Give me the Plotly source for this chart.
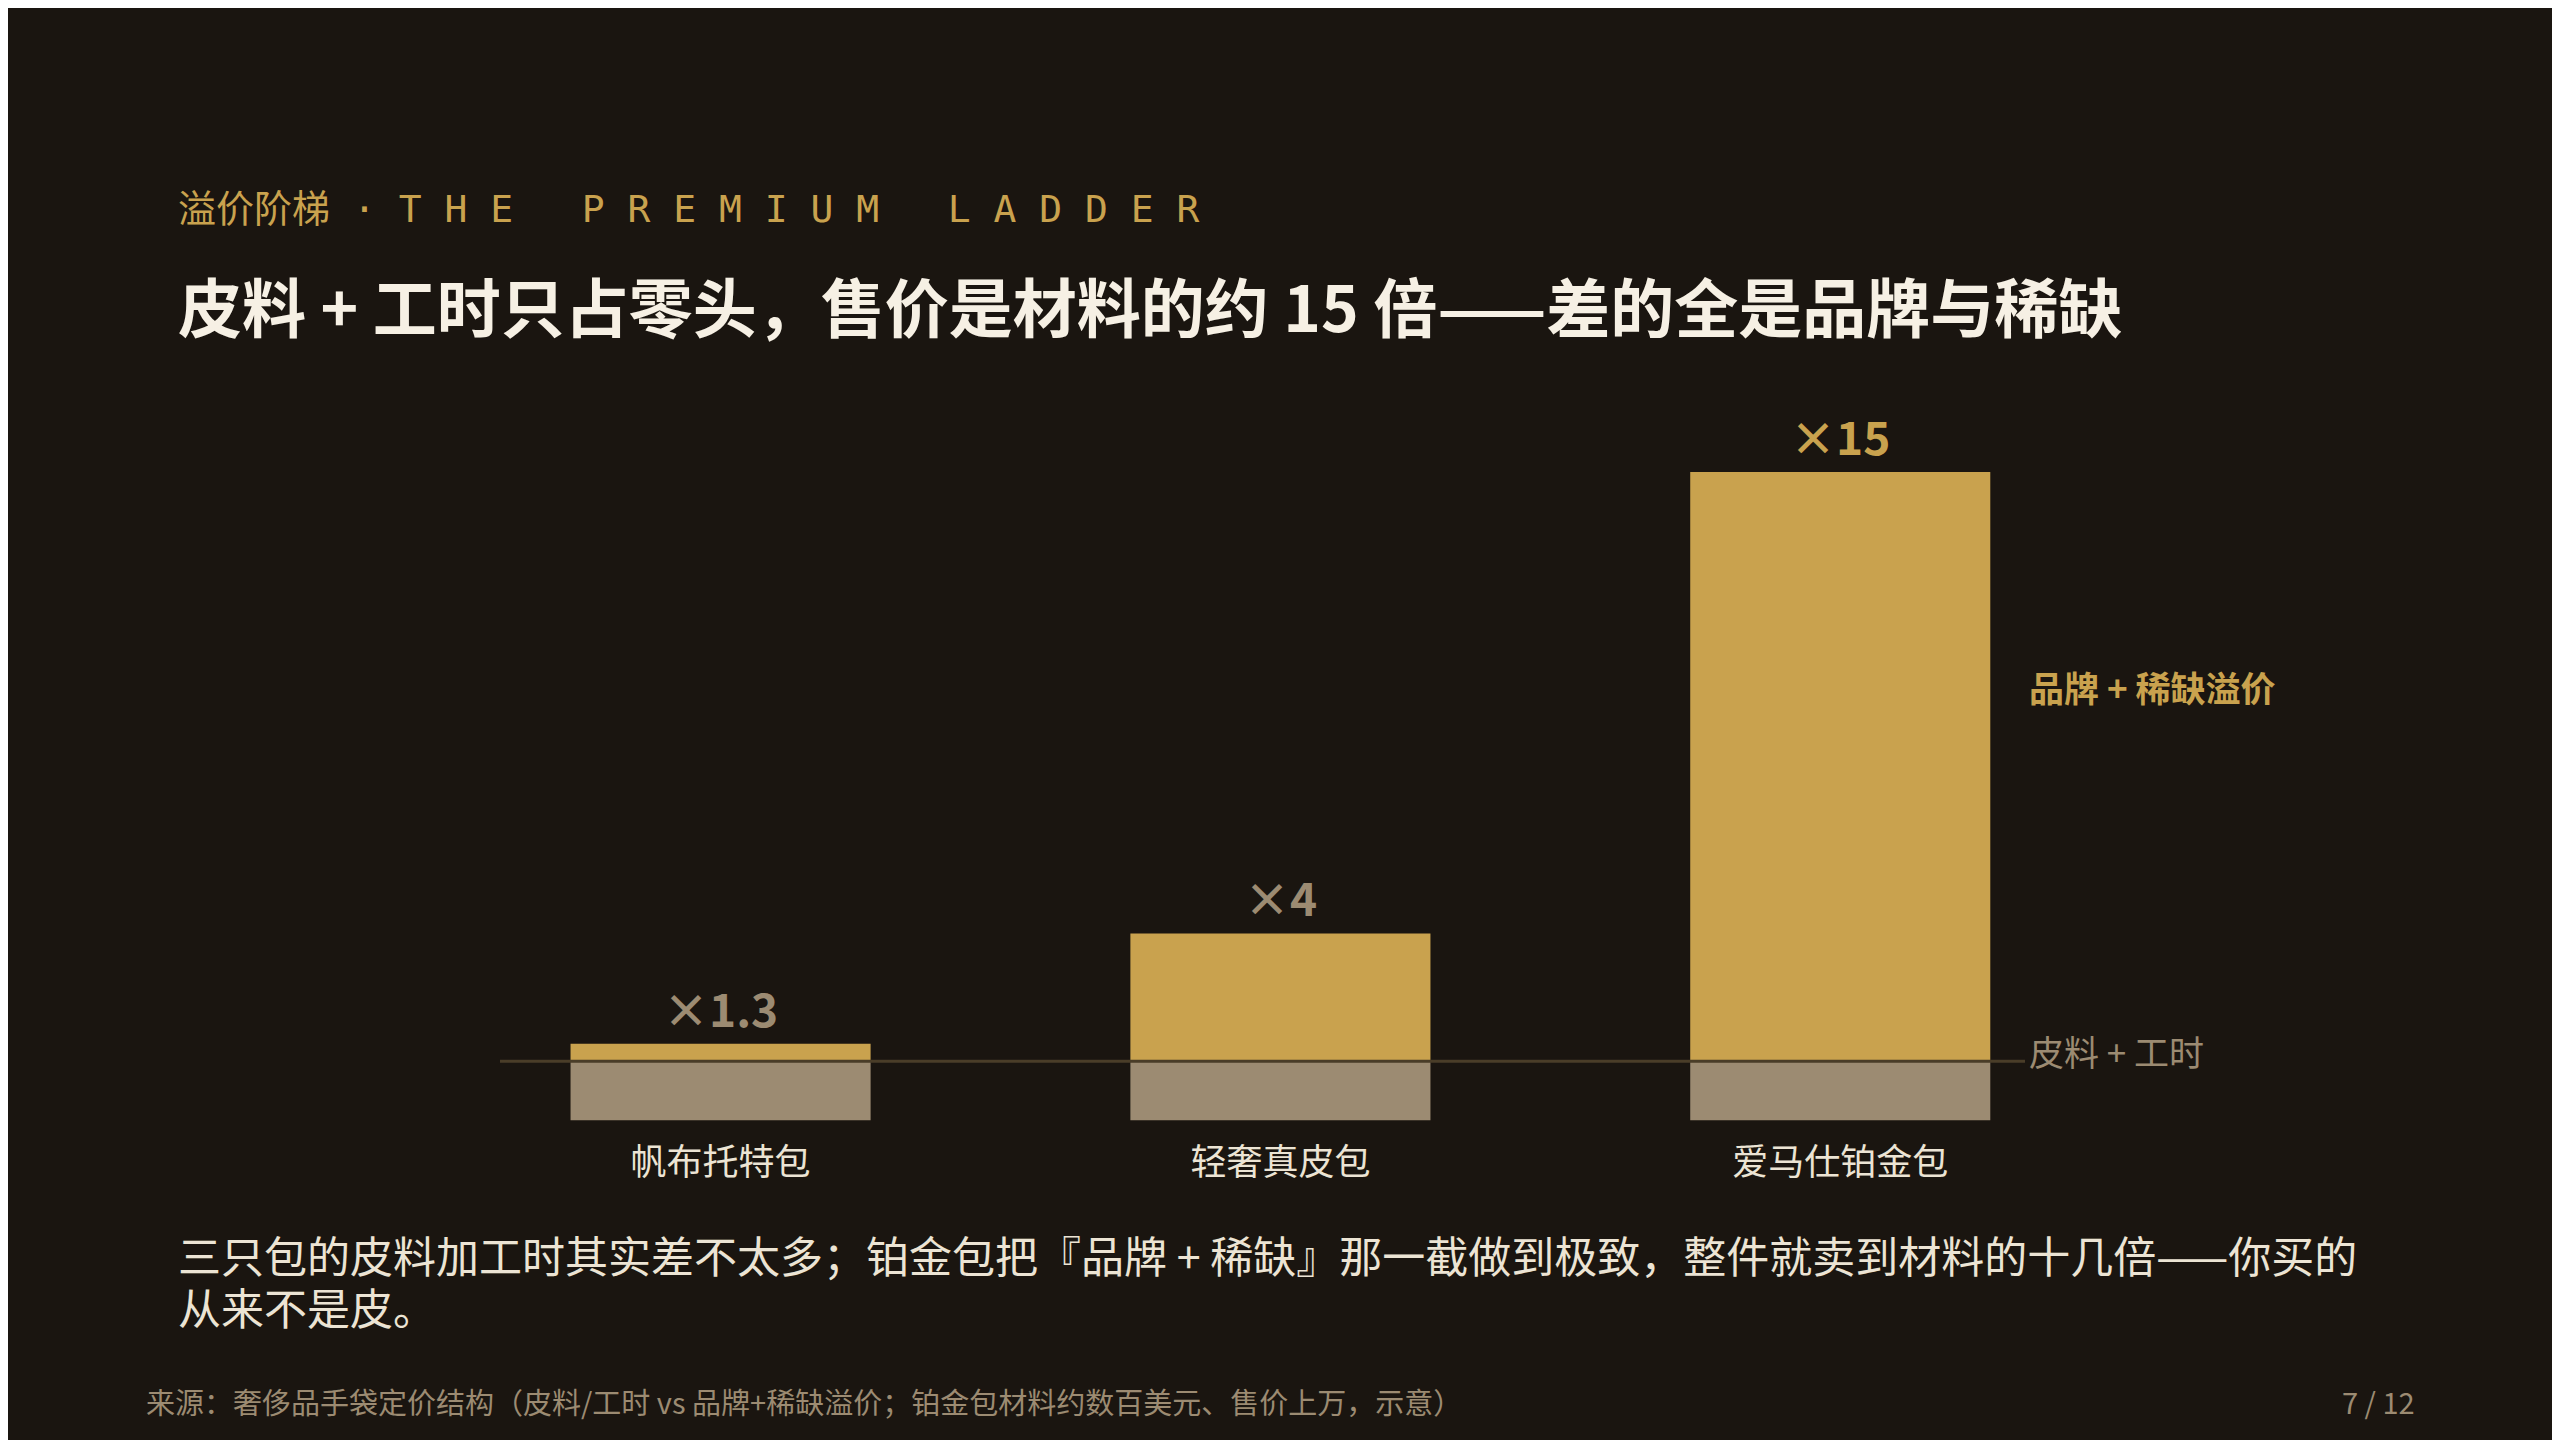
import plotly.graph_objects as go

categories = ["帆布托特包", "轻奢真皮包", "爱马仕铂金包"]
material = [1.0, 1.0, 1.0]          # 皮料 + 工时 (示意单位)
premium = [0.3, 2.17, 10.0]         # 品牌 + 稀缺溢价 (示意)
multiplier_labels = ["×1.3", "×4", "×15"]

BG = "#1a1510"
GOLD = "#c9a24e"
GREY = "#9c8b72"
TEXT = "#ece4d4"
CJK = "Noto Sans CJK SC"

W, H = 2560, 1440
OFF = 8
L, R, T, B = 500 - OFF, 535 + OFF, 413 - OFF, 302 + OFF
def px(X): return (X - OFF - L) / (W - L - R)
def py(Y): return (H - B - (Y - OFF)) / (H - T - B)

x = list(range(len(categories)))
fig = go.Figure()
fig.add_bar(x=x, y=[-m for m in material], base=0, marker_color=GREY, width=0.536,
            marker_line_width=0, hoverinfo="skip")
fig.add_bar(x=x, y=premium, marker_color=GOLD, width=0.536, marker_line_width=0, hoverinfo="skip")

ann = []
for i, (p, lab) in enumerate(zip(premium, multiplier_labels)):
    ann.append(dict(x=i, y=p, xref="x", yref="y", text=f"<b>{lab}</b>", showarrow=False,
                    yanchor="bottom", yshift=2,
                    font=dict(family=CJK, size=46, color=GOLD if i == len(premium) - 1 else GREY)))

def t(X, Y, text, size, color, xanchor="left", family=CJK):
    ann.append(dict(x=px(X), y=py(Y), xref="paper", yref="paper", text=text, showarrow=False,
                    xanchor=xanchor, yanchor="middle", align="left",
                    font=dict(family=family, size=size, color=color)))

hs = "\u200a"
eng = hs.join("THE PREMIUM LADDER")
t(176, 209, "溢价阶梯 · " + eng, 38, GOLD, family="DejaVu Sans Mono, " + CJK)
t(176, 304, "<b>皮料 + 工时只占零头，售价是材料的约 15 倍——差的全是品牌与稀缺</b>", 64, "#f6f0e4")
t(2027, 686, "<b>品牌 + 稀缺溢价</b>", 35, GOLD)
t(2027, 1050, "皮料 + 工时", 35, GREY)
t(176, 1254, "三只包的皮料加工时其实差不太多；铂金包把『品牌 + 稀缺』那一截做到极致，整件就卖到材料的十几倍——你买的", 43, TEXT)
t(176, 1306, "从来不是皮。", 43, TEXT)
t(144, 1401, "来源：奢侈品手袋定价结构（皮料/工时 vs 品牌+稀缺溢价；铂金包材料约数百美元、售价上万，示意）", 29, GREY)
t(2417, 1401, "7 / 12", 29, GREY, xanchor="right")

fig.update_layout(
    width=W, height=H, barmode="relative", showlegend=False,
    paper_bgcolor=BG, plot_bgcolor=BG,
    margin=dict(l=L, r=R, t=T, b=B, autoexpand=False),
    annotations=ann,
    shapes=[dict(type="line", xref="paper", yref="y", x0=0, x1=1, y0=0, y1=0,
                 line=dict(color="#4a3d28", width=3), layer="above")],
    xaxis=dict(range=[-0.394, 2.33], tickvals=x, ticktext=categories, showgrid=False,
               zeroline=False, showline=False, ticks="",
               tickfont=dict(family=CJK, size=36, color=TEXT)),
    yaxis=dict(range=[-1.3, 11], visible=False, showgrid=False, zeroline=False),
)
fig.write_html("out.html")
